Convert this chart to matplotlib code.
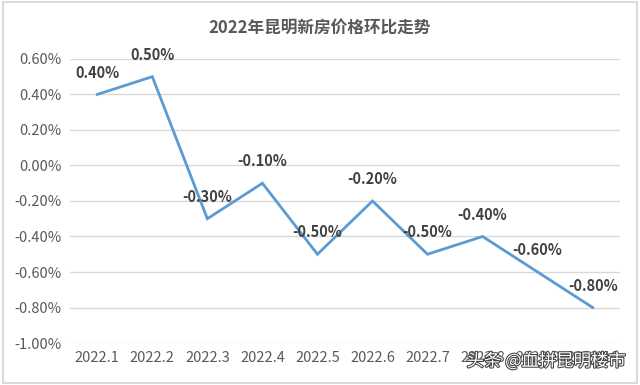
import matplotlib
matplotlib.use("Agg")
import matplotlib.pyplot as plt
import matplotlib.patheffects as pe
from matplotlib.patches import Rectangle

plt.rcParams['font.family'] = ['Noto Sans CJK SC', 'DejaVu Sans']

categories = ["2022.1", "2022.2", "2022.3", "2022.4", "2022.5",
              "2022.6", "2022.7", "2022.8", "2022.9", "2022.10"]
values = [0.40, 0.50, -0.30, -0.10, -0.50, -0.20, -0.50, -0.40, -0.60, -0.80]
yticks = [0.60, 0.40, 0.20, 0.00, -0.20, -0.40, -0.60, -0.80, -1.00]
title = "2022年昆明新房价格环比走势"
watermark = "头条 @血拼昆明楼市"

fig = plt.figure(figsize=(6.4, 3.85), dpi=100)
fig.patches.append(Rectangle((0.004, 0.004), 0.992, 0.992, transform=fig.transFigure,
                             fill=False, edgecolor="#D9D9D9", linewidth=1.5))
ax = fig.add_axes([0.109, 0.109, 0.860, 0.738])

x = list(range(len(categories)))
ax.plot(x, values, color="#5B9BD5", linewidth=2.0, solid_joinstyle="miter")
for xi, v in zip(x, values):
    ax.annotate(f"{v:.2f}%", (xi, v), xytext=(0, 10), textcoords="offset points",
                ha="center", va="bottom", fontsize=10.5, fontweight="bold", color="#404040")

ax.set_xlim(-0.5, len(categories) - 0.5)
ax.set_ylim(-1.0, 0.6)
ax.set_yticks(yticks)
ax.set_yticklabels([f"{t:.2f}%" for t in yticks])
ax.set_xticks(x)
ax.set_xticklabels(categories)
ax.tick_params(axis="both", length=0, labelsize=10.5, labelcolor="#595959")
ax.tick_params(axis="y", pad=6)
ax.tick_params(axis="x", pad=6)
ax.grid(axis="y", color="#D9D9D9", linewidth=1.0)
ax.set_axisbelow(True)
for s in ax.spines.values():
    s.set_visible(False)

fig.text(0.5, 0.925, title, ha="center", va="center", fontsize=12, fontweight="bold",
         color="#595959")
fig.text(0.978, 0.062, watermark, ha="right", va="center", fontsize=12.5, color="white",
         path_effects=[pe.withStroke(linewidth=1.5, foreground="#404040")])

fig.savefig("out.png", dpi=100)
